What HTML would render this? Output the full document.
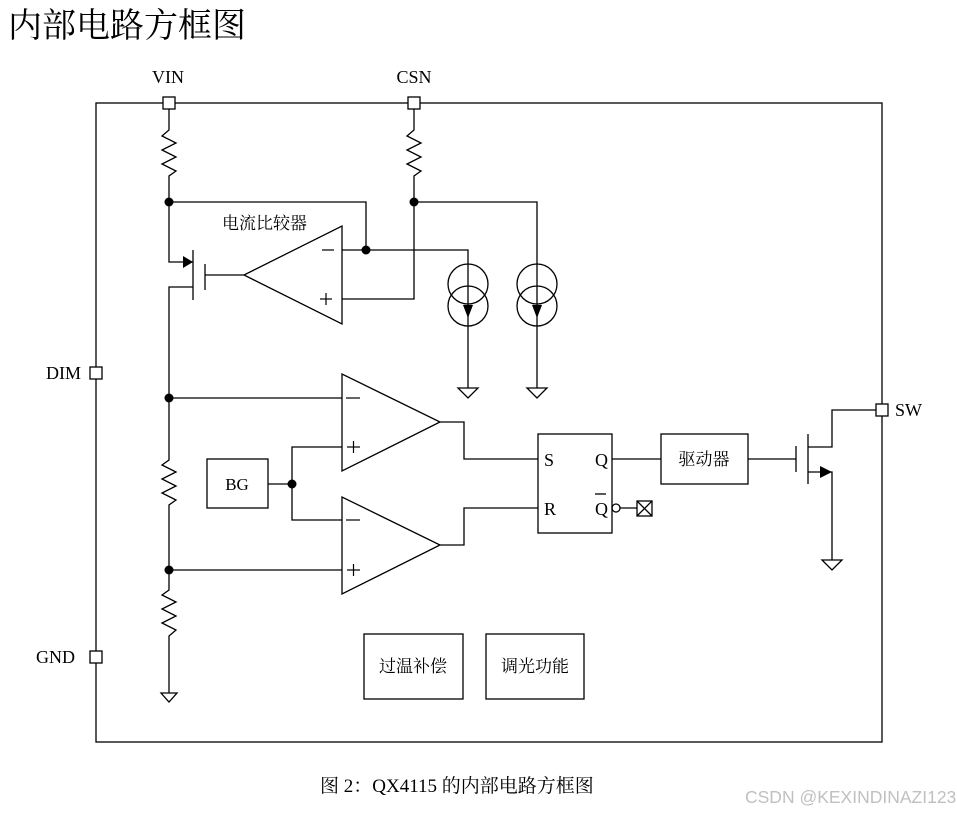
<!DOCTYPE html>
<html><head><meta charset="utf-8"><style>
html,body{margin:0;padding:0;background:#fff;}
svg{display:block;}
text{font-family:"Liberation Serif","Noto Serif CJK SC",serif;fill:#000;}
.cjk{font-family:"Liberation Serif","Noto Serif CJK SC",serif;}
</style></head><body>
<svg width="957" height="814" viewBox="0 0 957 814" xmlns="http://www.w3.org/2000/svg">
<g stroke="#000" stroke-width="1.3" fill="none">
<rect x="96" y="103" width="786" height="639"/>
<polyline points="169,109 169,130 162,136 176,143 162,150 176,157 162,164 176,171 169,176 169,262 193,262"/>
<polyline points="414,109 414,130 407,136 421,143 407,150 421,157 407,164 421,171 414,176 414,299 342,299"/>
<polyline points="169,202 366,202 366,250"/>
<polyline points="342,250 468,250 468,388"/>
<polyline points="414,202 537,202 537,388"/>
<circle cx="468" cy="284" r="20"/><circle cx="468" cy="306" r="20"/>
<circle cx="537" cy="284" r="20"/><circle cx="537" cy="306" r="20"/>
<polygon points="458,388 478,388 468,398"/>
<polygon points="527,388 547,388 537,398"/>
<polygon points="342,226 342,324 244,275"/>
<line x1="193" y1="250" x2="193" y2="300"/>
<line x1="205" y1="264" x2="205" y2="290"/>
<line x1="205" y1="275" x2="244" y2="275"/>
<polyline points="193,287 169,287 169,460 162,465 176,472 162,479 176,486 162,493 176,500 169,505 169,590 162,595 176,602 162,609 176,616 162,623 176,630 169,636 169,693"/>
<polygon points="161,693 177,693 169,702"/>
<line x1="169" y1="398" x2="342" y2="398"/>
<line x1="169" y1="570" x2="342" y2="570"/>
<polygon points="342,374 342,471 440,422"/>
<polygon points="342,497 342,594 440,545"/>
<rect x="207" y="459" width="61" height="49"/>
<line x1="268" y1="484" x2="292" y2="484"/>
<polyline points="342,447 292,447 292,520 342,520"/>
<polyline points="440,422 464,422 464,459 538,459"/>
<polyline points="440,545 464,545 464,508 538,508"/>
<rect x="538" y="434" width="74" height="99"/>
<line x1="595" y1="494" x2="606" y2="494"/>
<circle cx="616" cy="508" r="4"/>
<line x1="620" y1="508" x2="637" y2="508"/>
<rect x="637" y="501" width="15" height="15"/>
<line x1="637" y1="501" x2="652" y2="516"/><line x1="652" y1="501" x2="637" y2="516"/>
<line x1="612" y1="459" x2="661" y2="459"/>
<rect x="661" y="434" width="87" height="50"/>
<line x1="748" y1="459" x2="796" y2="459"/>
<line x1="796" y1="446" x2="796" y2="472"/>
<line x1="808" y1="434" x2="808" y2="484"/>
<polyline points="808,447 832,447 832,410 876,410"/>
<polyline points="808,472 832,472 832,560"/>
<polygon points="822,560 842,560 832,570"/>
<rect x="364" y="634" width="99" height="65"/>
<rect x="486" y="634" width="98" height="65"/>
<rect x="163" y="97" width="12" height="12" fill="#fff"/>
<rect x="408" y="97" width="12" height="12" fill="#fff"/>
<rect x="90" y="367" width="12" height="12" fill="#fff"/>
<rect x="90" y="651" width="12" height="12" fill="#fff"/>
<rect x="876" y="404" width="12" height="12" fill="#fff"/>
</g>
<g stroke="#000" stroke-width="1.2">
<line x1="322" y1="250" x2="334" y2="250"/>
<line x1="320" y1="299" x2="332" y2="299"/><line x1="326" y1="293" x2="326" y2="305"/>
<line x1="346" y1="398" x2="360" y2="398"/>
<line x1="347" y1="447" x2="360" y2="447"/><line x1="353.5" y1="441" x2="353.5" y2="453"/>
<line x1="346" y1="520" x2="360" y2="520"/>
<line x1="347" y1="570" x2="360" y2="570"/><line x1="353.5" y1="564" x2="353.5" y2="576"/>
</g>
<g fill="#000">
<circle cx="169" cy="202" r="4.5"/><circle cx="414" cy="202" r="4.5"/>
<circle cx="366" cy="250" r="4.5"/>
<circle cx="169" cy="398" r="4.5"/><circle cx="169" cy="570" r="4.5"/>
<circle cx="292" cy="484" r="4.5"/>
<polygon points="183,256 193,262 183,268"/>
<polygon points="463,305 473,305 468,318"/>
<polygon points="532,305 542,305 537,318"/>
<polygon points="820,466 832,472 820,478"/>
</g>
<text x="8" y="37" class="cjk" font-size="34">内部电路方框图</text>
<text x="168" y="83" font-size="18" text-anchor="middle">VIN</text>
<text x="414" y="83" font-size="18" text-anchor="middle">CSN</text>
<text x="81" y="379" font-size="18" text-anchor="end">DIM</text>
<text x="75" y="663" font-size="18" text-anchor="end">GND</text>
<text x="895" y="416" font-size="18">SW</text>
<text x="222" y="229" class="cjk" font-size="17">电流比较器</text>
<text x="237" y="490" font-size="17" text-anchor="middle">BG</text>
<text x="544" y="466" font-size="18">S</text>
<text x="544" y="515" font-size="18">R</text>
<text x="595" y="466" font-size="18">Q</text>
<text x="595" y="515" font-size="18">Q</text>
<text x="704" y="465" class="cjk" font-size="17" text-anchor="middle">驱动器</text>
<text x="413" y="672" class="cjk" font-size="17" text-anchor="middle">过温补偿</text>
<text x="535" y="672" class="cjk" font-size="17" text-anchor="middle">调光功能</text>
<text x="320" y="792" class="cjk" font-size="19">图 2：QX4115 的内部电路方框图</text>
<text x="745" y="803" font-size="17.5" style="font-family:'Liberation Sans',sans-serif;fill:#c0c0c0">CSDN @KEXINDINAZI123</text>
</svg>
</body></html>
